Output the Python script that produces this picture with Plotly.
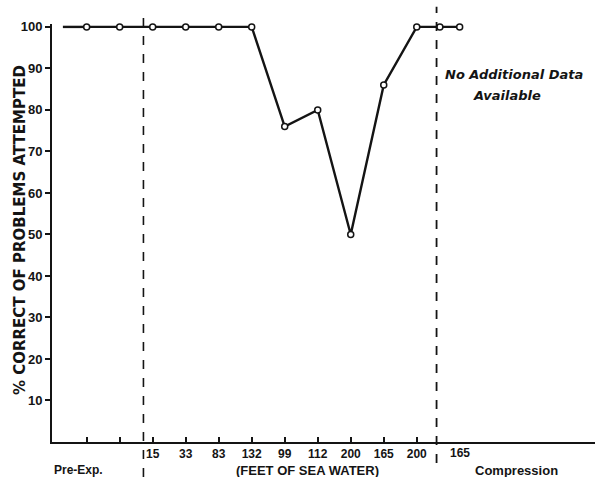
import plotly.graph_objects as go

# Data (category positions along the session axis and % correct)
x_pos = [0, 1, 2, 3, 4, 5, 6, 7, 8, 9, 10, 10.7, 11.3]
pct_correct = [100, 100, 100, 100, 100, 100, 76, 80, 50, 86, 100, 100, 100]
lead_x = [-0.72, 0]
lead_y = [100, 100]

tick_positions = [0, 1, 2, 3, 4, 5, 6, 7, 8, 9, 10]
tick_labels = ["", "", "15", "33", "83", "132", "99", "112", "200", "165", "200"]
post_label = "165"
post_label_pos = 11.3
phase_boundaries = [1.72, 10.6]

y_ticks = [10, 20, 30, 40, 50, 60, 70, 80, 90, 100]

FONT = "DejaVu Sans"
FONT2 = "Liberation Sans"
INK = "#141414"

fig = go.Figure()
fig.add_trace(go.Scatter(x=lead_x, y=lead_y, mode="lines",
                         line=dict(color=INK, width=2.4), cliponaxis=False,
                         hoverinfo="skip", showlegend=False))
fig.add_trace(go.Scatter(x=x_pos, y=pct_correct, mode="lines+markers",
                         line=dict(color=INK, width=2.4),
                         marker=dict(symbol="circle", size=6, color="white",
                                     line=dict(color=INK, width=1.5)),
                         cliponaxis=False, showlegend=False))

# dashed phase boundaries
fig.add_shape(type="line", xref="x", yref="paper", x0=phase_boundaries[0], x1=phase_boundaries[0],
              y0=-0.084, y1=1.026, line=dict(color=INK, width=1.6, dash="dash"))
fig.add_shape(type="line", xref="x", yref="paper", x0=phase_boundaries[1], x1=phase_boundaries[1],
              y0=-0.05, y1=1.041, line=dict(color=INK, width=1.8, dash="dash"))

bold = dict(family=FONT, color=INK, weight="bold")
bold2 = dict(family=FONT2, color=INK, weight="bold")
annots = [
    dict(x=post_label_pos, xref="x", y=-0.026, yref="paper", text=post_label,
         showarrow=False, xanchor="center", yanchor="middle", font=dict(size=12, **bold2)),
    dict(x=0.048, xref="paper", y=-0.067, yref="paper", text="Pre-Exp.",
         showarrow=False, xanchor="center", yanchor="middle", font=dict(size=12, **bold2)),
    dict(x=0.471, xref="paper", y=-0.067, yref="paper", text="(FEET OF SEA WATER)",
         showarrow=False, xanchor="center", yanchor="middle", font=dict(size=13, **bold2)),
    dict(x=0.856, xref="paper", y=-0.067, yref="paper", text="Compression",
         showarrow=False, xanchor="center", yanchor="middle", font=dict(size=13, **bold2)),
    dict(x=0.851, xref="paper", y=0.878, yref="paper", text="<i>No Additional Data</i>",
         showarrow=False, xanchor="center", yanchor="middle", font=dict(size=13, **bold)),
    dict(x=0.838, xref="paper", y=0.830, yref="paper", text="<i>Available</i>",
         showarrow=False, xanchor="center", yanchor="middle", font=dict(size=13, **bold)),
    dict(x=-0.059, xref="paper", y=0.507, yref="paper", text="% CORRECT OF PROBLEMS ATTEMPTED",
         textangle=-90, showarrow=False, xanchor="center", yanchor="middle",
         font=dict(size=15, **bold)),
]

fig.update_layout(
    width=598, height=477,
    margin=dict(l=52, r=3, t=24, b=35),
    paper_bgcolor="white", plot_bgcolor="white",
    annotations=annots,
    xaxis=dict(range=[-1.05, 15.4], tickvals=tick_positions, ticktext=tick_labels,
               ticks="inside", ticklen=5, tickwidth=1.5, tickcolor=INK,
               showline=True, linecolor=INK, linewidth=2, showgrid=False, zeroline=False,
               ticklabelstandoff=0,
               tickfont=dict(size=12, **bold2), fixedrange=True),
    yaxis=dict(range=[0, 100.7], tickvals=y_ticks,
               ticks="outside", ticklen=5, tickwidth=1.5, tickcolor=INK,
               showline=True, linecolor=INK, linewidth=2, showgrid=False, zeroline=False,
               ticklabelstandoff=0,
               tickfont=dict(size=13, **bold2), fixedrange=True),
)

fig.write_html("out.html")
